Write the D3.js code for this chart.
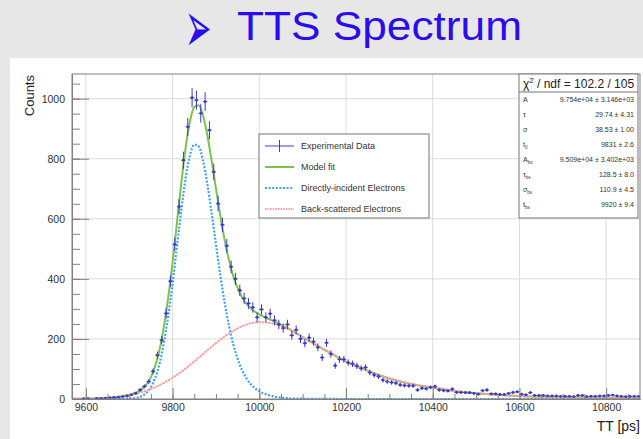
<!DOCTYPE html>
<html><head><meta charset="utf-8">
<script src="https://cdn.jsdelivr.net/npm/d3@7"></script>
<style>
html,body{margin:0;padding:0;background:#e7e7e7;}
svg{display:block;font-family:"Liberation Sans",Arial,Helvetica,sans-serif;}
</style></head>
<body><svg id="c" width="643" height="439"></svg>
<script>
// ---- Data ----
const binCenters = [9575,9585,9595,9605,9615,9625,9635,9645,9655,9665,9675,9685,9695,9705,9715,9725,9735,9745,9755,9765,9775,9785,9795,9805,9815,9825,9835,9845,9855,9865,9875,9885,9895,9905,9915,9925,9935,9945,9955,9965,9975,9985,9995,10005,10015,10025,10035,10045,10055,10065,10075,10085,10095,10105,10115,10125,10135,10145,10155,10165,10175,10185,10195,10205,10215,10225,10235,10245,10255,10265,10275,10285,10295,10305,10315,10325,10335,10345,10355,10365,10375,10385,10395,10405,10415,10425,10435,10445,10455,10465,10475,10485,10495,10505,10515,10525,10535,10545,10555,10565,10575,10585,10595,10605,10615,10625,10635,10645,10655,10665,10675,10685,10695,10705,10715,10725,10735,10745,10755,10765,10775,10785,10795,10805,10815,10825,10835,10845,10855,10865,10875];
const counts = [0,0,1,1,0,2,2,3,4,5,6,8,10,14,19,30,42,58,92,146,196,285,392,515,640,795,906,1003,995,951,990,895,756,650,580,510,440,400,362,335,318,305,272,298,272,284,262,248,236,248,212,230,200,186,204,191,172,138,187,150,111,132,132,121,117,110,102,105,88,80,75,63,58,55,53,47,45,44,44,30,36,34,39,42,30,28,27,33,22,22,21,21,19,16,28,30,17,17,15,15,19,22,24,16,14,21,12,12,12,10,10,10,9,9,9,8,12,12,8,9,9,10,10,12,13,10,9,8,9,9,9];

const curveT = [9568,9600,9630,9660,9680,9690,9700,9710,9720,9730,9740,9750,9760,9770,9780,9790,9800,9810,9820,9830,9840,9850,9860,9870,9880,9890,9900,9910,9920,9930,9940,9950,9960,9970,9980,9990,10000,10010,10020,10030,10040,10050,10060,10070,10080,10090,10100,10125,10150,10175,10200,10250,10300,10350,10400,10450,10500,10550,10600,10650,10700,10750,10800,10850,10878];
const fitValues = [0.6,1.2,2.6,5.4,8.7,11.1,14.1,18.1,24.2,33.7,48.6,72.9,110.7,164.3,241.6,339,454.7,587.3,717.3,836.5,924,972,978,944.5,879,794,701,610,530,463,409,369,339,317.5,302,290.5,281.8,274,267.2,260.9,254.7,247.8,240.4,232.4,223.7,215.2,205.9,185.4,164.2,144.1,125,94,68,50,38,27,19.5,14,10,7.5,6,5,4,3.5,3];
const directValues = [0,0,0,0,0.2,0.4,0.9,2.0,4.8,10.3,20.7,39.4,71,118,188,277,384,507,627,735,811,847,841,795,717,620,515,413,322,245,182,134,97,70,50,36,25.8,18.5,13.2,9.4,6.7,4.8,3.4,2.4,1.7,1.2,0.9,0.4,0.2,0.1,0,0,0,0,0,0,0,0,0,0,0,0,0,0,0];
const backValues = [0.6,1.2,2.6,5.4,8.5,10.7,13.2,16.1,19.4,23.4,27.9,33.5,39.7,46.3,53.6,62,70.7,80.3,90.3,101.5,113,125,137,149.5,162,174,186,197,208,218,227,235,242,247.5,252,254.5,256,255.5,254,251.5,248,243,237,230,222,214,205,185,164,144,125,94,68,50,38,27,19.5,14,10,7.5,6,5,4,3.5,3];

const xTicks = [9600,9800,10000,10200,10400,10600,10800];
const xMinorTicks = [9600,9650,9700,9750,9800,9850,9900,9950,10000,10050,10100,10150,10200,10250,10300,10350,10400,10450,10500,10550,10600,10650,10700,10750,10800,10850];
const yTicks = [0,200,400,600,800,1000];
const yMinorTicks = [0,50,100,150,200,250,300,350,400,450,500,550,600,650,700,750,800,850,900,950,1000,1050];

const legendLabels = ["Experimental Data","Model fit","Directly-incident Electrons","Back-scattered Electrons"];
const statNames = [["A",""],["τ",""],["σ",""],["t","0"],["A","bs"],["τ","bs"],["σ","bs"],["t","bs"]];
const statValues = ["9.754e+04 ± 3.146e+03","29.74 ± 4.31","38.53 ± 1.00","9831 ± 2.6","9.509e+04 ± 3.402e+03","128.5 ± 8.0","110.9 ± 4.5","9920 ± 9.4"];

// ---- Layout ----
const svg = d3.select("#c");
const L = 72, R = 640, T = 74, B = 399;
const x = d3.scaleLinear().domain([9568, 10878]).range([L, R]);
const y = d3.scaleLinear().domain([0, 1082]).range([B, T]);

const cData = "#3c3cc0", cFit = "#7cc250", cDir = "#3ea3e8", cBack = "#f5a3a3";

// background and white panel
svg.append("rect").attr("width",643).attr("height",439).attr("fill","#e7e7e7");
svg.append("rect").attr("x",10).attr("y",58).attr("width",633).attr("height",381).attr("fill","#ffffff");

// title
const title = svg.append("g").attr("fill","#2a0cf0");
title.append("g").attr("transform","translate(185,28) scale(1.05,2.4)")
  .append("text").attr("x",0).attr("y",10).attr("font-family","DejaVu Sans").attr("font-size",30).text("➢");
title.append("text").attr("x",237).attr("y",40).attr("font-size",40)
  .attr("textLength",285).attr("lengthAdjust","spacingAndGlyphs").text("TTS Spectrum");

// plot frame background
svg.append("rect").attr("x",L).attr("y",T).attr("width",R-L).attr("height",B-T).attr("fill","#fff");

// grid
const grid = svg.append("g").attr("stroke","#dcdcdc").attr("stroke-width",1);
grid.selectAll(".gx").data(xTicks).join("line")
  .attr("x1",d=>x(d)).attr("x2",d=>x(d)).attr("y1",T).attr("y2",B);
grid.selectAll(".gy").data(yTicks.filter(d=>d>0)).join("line")
  .attr("x1",L).attr("x2",R).attr("y1",d=>y(d)).attr("y2",d=>y(d));

// clip
svg.append("clipPath").attr("id","clip").append("rect").attr("x",L).attr("y",T).attr("width",R-L).attr("height",B-T+1);
const plot = svg.append("g").attr("clip-path","url(#clip)");

const line = vals => d3.line().x((d,i)=>x(curveT[i])).y(d=>y(d)).curve(d3.curveMonotoneX)(vals);

// curves
plot.append("path").attr("d",line(fitValues)).attr("fill","none").attr("stroke",cFit).attr("stroke-width",2);
plot.append("path").attr("d",line(directValues)).attr("fill","none").attr("stroke",cDir).attr("stroke-width",2.2).attr("stroke-dasharray","2 1.6");
plot.append("path").attr("d",line(backValues)).attr("fill","none").attr("stroke",cBack).attr("stroke-width",2).attr("stroke-dasharray","2.6 0.7");

// data points with errors
const pts = binCenters.map((t,i)=>({t, n:counts[i]})).filter(d=>d.n>0);
const gp = plot.append("g").attr("stroke",cData).attr("stroke-width",1);
gp.selectAll(".ev").data(pts).join("line")
  .attr("x1",d=>x(d.t)).attr("x2",d=>x(d.t))
  .attr("y1",d=>y(d.n+Math.sqrt(d.n))).attr("y2",d=>y(Math.max(0,d.n-Math.sqrt(d.n))));
gp.selectAll(".eh").data(pts).join("line")
  .attr("x1",d=>x(d.t-5)).attr("x2",d=>x(d.t+5))
  .attr("y1",d=>y(d.n)).attr("y2",d=>y(d.n));
plot.append("g").attr("fill",cData).selectAll("circle").data(pts).join("circle")
  .attr("cx",d=>x(d.t)).attr("cy",d=>y(d.n)).attr("r",1.4);

// axes
const axCol = "#808080";
svg.append("g").attr("transform",`translate(0,${B})`)
  .call(d3.axisBottom(x).tickValues(xTicks).tickSizeInner(-11).tickSizeOuter(0).tickPadding(5).tickFormat(d3.format("d")));
svg.append("g").attr("transform",`translate(0,${B})`)
  .call(d3.axisBottom(x).tickValues(xMinorTicks).tickSizeInner(-5).tickSizeOuter(0).tickFormat(""));
svg.append("g").attr("transform",`translate(${L},0)`)
  .call(d3.axisLeft(y).tickValues(yTicks).tickSizeInner(-17).tickSizeOuter(0).tickPadding(7).tickFormat(d3.format("d")));
svg.append("g").attr("transform",`translate(${L},0)`)
  .call(d3.axisLeft(y).tickValues(yMinorTicks).tickSizeInner(-8).tickSizeOuter(0).tickFormat(""));
svg.selectAll(".domain").attr("stroke",axCol);
svg.selectAll(".tick line").attr("stroke",axCol);
svg.selectAll(".tick text").attr("font-size",10.5).attr("fill","#333").attr("font-family","Liberation Sans, Arial, sans-serif");

// frame
svg.append("rect").attr("x",L).attr("y",T).attr("width",R-L).attr("height",B-T)
  .attr("fill","none").attr("stroke",axCol).attr("stroke-width",1);

// axis titles
svg.append("text").attr("transform","translate(34,75) rotate(-90)").attr("text-anchor","end")
  .attr("font-size",13).attr("fill","#222").text("Counts");
svg.append("text").attr("x",640).attr("y",431).attr("text-anchor","end")
  .attr("font-size",14).attr("fill","#222").text("TT [ps]");

// legend
const lg = svg.append("g");
lg.append("rect").attr("x",259).attr("y",134).attr("width",170).attr("height",84)
  .attr("fill","#fff").attr("stroke","#777");
const ly = [146,167,188,209];
lg.append("line").attr("x1",265).attr("x2",294).attr("y1",ly[0]).attr("y2",ly[0]).attr("stroke",cData);
lg.append("line").attr("x1",279.5).attr("x2",279.5).attr("y1",ly[0]-6).attr("y2",ly[0]+6).attr("stroke",cData);
lg.append("line").attr("x1",265).attr("x2",294).attr("y1",ly[1]).attr("y2",ly[1]).attr("stroke",cFit).attr("stroke-width",2);
lg.append("line").attr("x1",265).attr("x2",294).attr("y1",ly[2]).attr("y2",ly[2]).attr("stroke",cDir).attr("stroke-width",2).attr("stroke-dasharray","2 1.6");
lg.append("line").attr("x1",265).attr("x2",294).attr("y1",ly[3]).attr("y2",ly[3]).attr("stroke",cBack).attr("stroke-width",2).attr("stroke-dasharray","1.6 1");
lg.selectAll(".lt").data(legendLabels).join("text")
  .attr("x",301).attr("y",(d,i)=>ly[i]+3.2).attr("font-size",9).attr("fill","#333").text(d=>d);

// stats box
const sb = svg.append("g");
sb.append("rect").attr("x",519).attr("y",T).attr("width",119).attr("height",144).attr("fill","#fff").attr("stroke","#777");
sb.append("line").attr("x1",519).attr("x2",638).attr("y1",92).attr("y2",92).attr("stroke","#777");
const ht = sb.append("text").attr("x",578.5).attr("y",88).attr("text-anchor","middle").attr("font-size",12).attr("fill","#222");
ht.append("tspan").text("χ");
ht.append("tspan").attr("font-size",8).attr("dy",-5).text("2");
ht.append("tspan").attr("dy",5).text(" / ndf = 102.2 / 105");
statNames.forEach((nm,i)=>{
  const yy = 102 + i*15;
  const t = sb.append("text").attr("x",523).attr("y",yy).attr("font-size",7).attr("fill","#333");
  t.append("tspan").text(nm[0]);
  if (nm[1]) t.append("tspan").attr("font-size",4.5).attr("dy",1.5).text(nm[1]);
  sb.append("text").attr("x",634).attr("y",yy).attr("text-anchor","end").attr("font-size",7).attr("fill","#333").text(statValues[i]);
});
</script></body></html>
